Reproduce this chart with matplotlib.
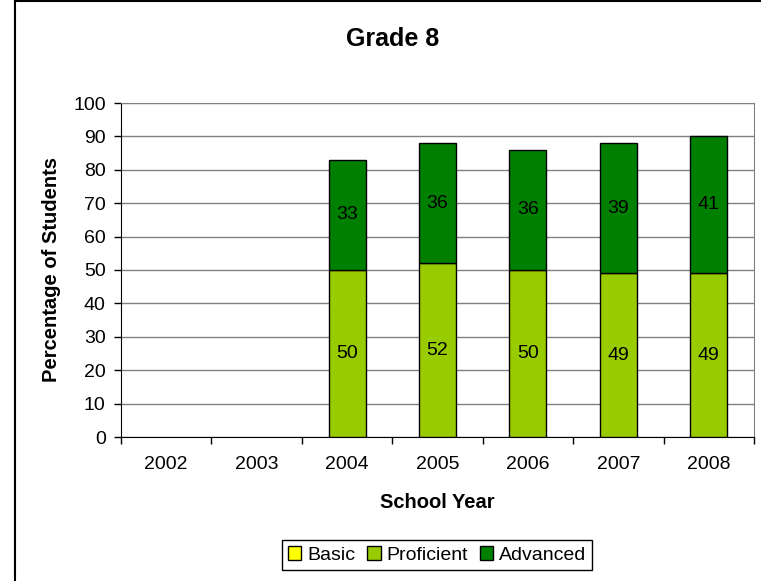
import numpy as np
import matplotlib.pyplot as plt
from matplotlib.patches import Rectangle, Patch

plt.rcParams['font.family'] = ['Liberation Sans', 'DejaVu Sans']

# data
years = ['2002', '2003', '2004', '2005', '2006', '2007', '2008']
basic = [0, 0, 0, 0, 0, 0, 0]
proficient = [0, 0, 50, 52, 50, 49, 49]
advanced = [0, 0, 33, 36, 36, 39, 41]

c_basic = '#FFFF00'
c_prof = '#99CC00'
c_adv = '#008000'

fig = plt.figure(figsize=(7.61, 5.81), dpi=100)
ax = fig.add_axes([121/761, 1 - 437/581, (754-121)/761, (437-103)/581])

x = np.arange(len(years))
w = 0.41
b = np.array(basic)
p = np.array(proficient)
a = np.array(advanced)

bars = []
bars += ax.bar(x, b, w, color=c_basic, edgecolor='black', linewidth=1, zorder=3).patches
bars += ax.bar(x, p, w, bottom=b, color=c_prof, edgecolor='black', linewidth=1, zorder=3).patches
bars += ax.bar(x, a, w, bottom=b + p, color=c_adv, edgecolor='black', linewidth=1, zorder=3).patches
# empty segments are not drawn at all
for r in bars:
    if r.get_height() == 0:
        r.set_visible(False)

for i in range(len(years)):
    if p[i] > 0:
        ax.text(x[i], b[i] + p[i] / 2, str(p[i]), ha='center', va='center', fontsize=14, zorder=4)
    if a[i] > 0:
        ax.text(x[i], b[i] + p[i] + a[i] / 2, str(a[i]), ha='center', va='center', fontsize=14, zorder=4)

ax.set_xlim(-0.5, len(years) - 0.5)
ax.set_ylim(0, 100)
ax.set_yticks(np.arange(0, 101, 10))
ax.yaxis.grid(True, color='#808080', linewidth=1, zorder=0)
ax.tick_params(axis='y', length=5, width=1, labelsize=14, pad=6)

ax.set_xticks(x)
ax.set_xticklabels(years)
ax.set_xticks(np.arange(-0.5, len(years), 1), minor=True)
ax.tick_params(axis='x', which='major', length=0, labelsize=14, pad=14)
ax.tick_params(axis='x', which='minor', length=5, width=1)

ax.spines['left'].set_color('black')
ax.spines['bottom'].set_color('black')
ax.spines['top'].set_color('#808080')
ax.spines['right'].set_color('#808080')

ax.set_ylabel('Percentage of Students', fontsize=14.5, fontweight='bold', labelpad=9)
ax.set_xlabel('School Year', fontsize=14.5, fontweight='bold', labelpad=14)

fig.text(393/761, 1 - 39/581, 'Grade 8', ha='center', va='center', fontsize=18, fontweight='bold')

handles = [Patch(facecolor=c_basic, edgecolor='black'),
           Patch(facecolor=c_prof, edgecolor='black'),
           Patch(facecolor=c_adv, edgecolor='black')]
leg = fig.legend(handles, ['Basic', 'Proficient', 'Advanced'], loc='center',
                 bbox_to_anchor=(437/761, 1 - 555/581), ncol=3, fontsize=14,
                 handlelength=0.7, handleheight=0.7, handletextpad=0.3,
                 columnspacing=0.6, borderpad=0.3, fancybox=False, framealpha=1)
leg.get_frame().set_edgecolor('black')
leg.get_frame().set_linewidth(1)

# outer chart border (extends past the right and bottom edges)
fig.patches.append(Rectangle((15/761, -0.1), 1.2, 1.1 - 1.5/581, transform=fig.transFigure,
                             fill=False, edgecolor='black', linewidth=1.5))

fig.savefig('out.png', dpi=100)
